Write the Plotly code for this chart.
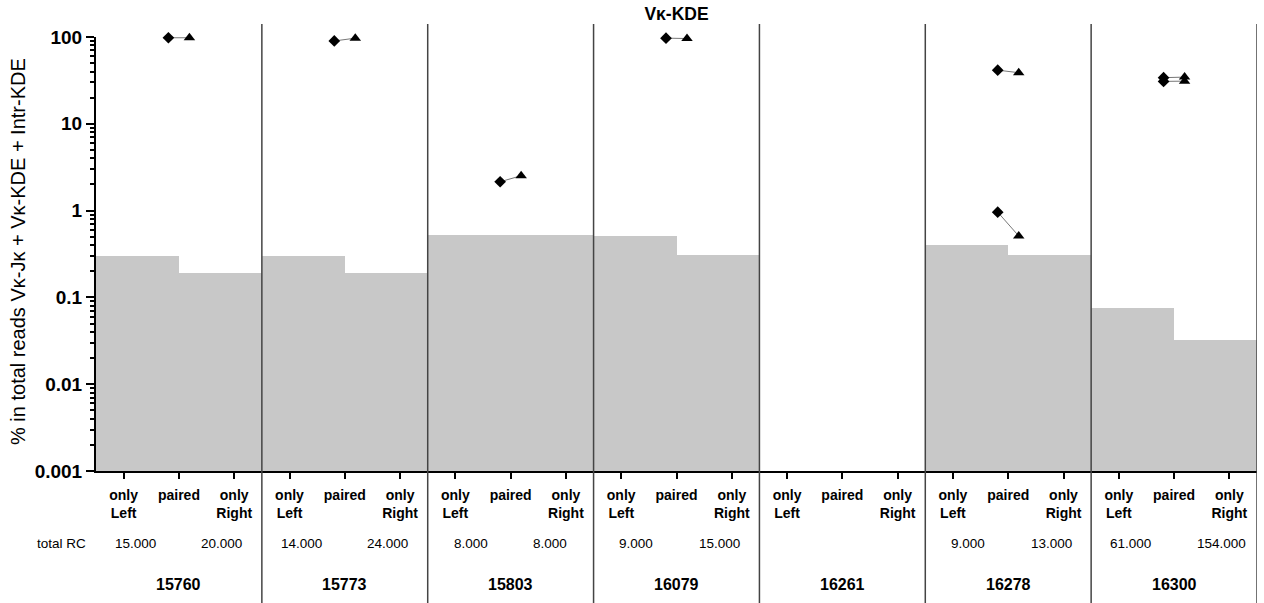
import plotly.graph_objects as go

# ---- data ----
groups = ["15760", "15773", "15803", "16079", "16261", "16278", "16300"]
categories = ["only<br>Left", "paired", "only<br>Right"]
only_left_pct = [0.30, 0.30, 0.52, 0.51, None, 0.40, 0.075]
only_right_pct = [0.19, 0.19, 0.52, 0.31, None, 0.31, 0.032]
paired_left_pct = [[98], [90], [2.15], [97], [], [41.5, 0.96], [34.0, 30.8]]
paired_right_pct = [[98], [97], [2.52], [96], [], [38.8, 0.51], [34.5, 31.0]]
total_rc_left = ["15.000", "14.000", "8.000", "9.000", "", "9.000", "61.000"]
total_rc_right = ["20.000", "24.000", "8.000", "15.000", "", "13.000", "154.000"]
y_tickvals = [0.001, 0.01, 0.1, 1, 10, 100]
y_ticktext = ["0.001", "0.01", "0.1", "1", "10", "100"]

FONT = "Liberation Sans, Arial, sans-serif"
GREY = "#c8c8c8"
W, H = 1264, 603
ML, MR, MT, MB = 96, 7, 37, 132
plot_h = H - MT - MB

fig = go.Figure()

# grey step bars
bx, by, bw = [], [], []
for g in range(len(groups)):
    if only_left_pct[g] is not None:
        bx.append(3 * g + 0.25); by.append(only_left_pct[g]); bw.append(1.5)
    if only_right_pct[g] is not None:
        bx.append(3 * g + 2 - 0.25); by.append(only_right_pct[g]); bw.append(1.5)
fig.add_trace(go.Bar(x=bx, y=by, width=bw, marker=dict(color=GREY, line=dict(width=0)),
                     showlegend=False, hoverinfo="skip"))

# paired points connected by lines
for g in range(len(groups)):
    for lv, rv in zip(paired_left_pct[g], paired_right_pct[g]):
        xc = 3 * g + 1
        fig.add_trace(go.Scatter(x=[xc - 0.19, xc + 0.19], y=[lv, rv], mode="lines",
                                 line=dict(color="#777777", width=1), showlegend=False,
                                 cliponaxis=False))
        fig.add_trace(go.Scatter(x=[xc - 0.19], y=[lv], mode="markers",
                                 marker=dict(symbol="diamond", size=9, color="black"),
                                 showlegend=False, cliponaxis=False))
        fig.add_trace(go.Scatter(x=[xc + 0.19], y=[rv], mode="markers",
                                 marker=dict(symbol="triangle-up", size=10, color="black"),
                                 showlegend=False, cliponaxis=False))

# dividers
shapes = []
for k in range(1, len(groups) + 1):
    xv = 3 * k - 0.5
    shapes.append(dict(type="line", xref="x", yref="paper", x0=xv, x1=xv,
                       y0=-(MB / plot_h), y1=1 + 13 / plot_h,
                       line=dict(color="#444444", width=1.5)))

annotations = []
# total RC row
y_rc = -(543 - (H - MB)) / plot_h
annotations.append(dict(xref="paper", yref="paper", x=-(ML - 35) / (W - ML - MR), y=y_rc,
                        text="total RC", showarrow=False, xanchor="left", yanchor="middle",
                        font=dict(family=FONT, size=13.5, color="black")))
y_grp = -(584 - (H - MB)) / plot_h
for g, name in enumerate(groups):
    if total_rc_left[g]:
        annotations.append(dict(xref="x", yref="paper", x=3 * g + 0.62, y=y_rc,
                                text=total_rc_left[g], showarrow=False, xanchor="right",
                                yanchor="middle", font=dict(family=FONT, size=13.5, color="black")))
    if total_rc_right[g]:
        annotations.append(dict(xref="x", yref="paper", x=3 * g + 2 - 0.63, y=y_rc,
                                text=total_rc_right[g], showarrow=False, xanchor="left",
                                yanchor="middle", font=dict(family=FONT, size=13.5, color="black")))
    annotations.append(dict(xref="x", yref="paper", x=3 * g + 1, y=y_grp, text=name,
                            showarrow=False, xanchor="center", yanchor="middle",
                            font=dict(family=FONT, size=16, color="black", weight="bold")))

# y title
annotations.append(dict(xref="paper", yref="paper", x=-(ML - 18) / (W - ML - MR),
                        y=1 - (252 - MT) / plot_h,
                        text="% in total reads Vκ-Jκ + Vκ-KDE + Intr-KDE", textangle=-90,
                        showarrow=False, xanchor="center", yanchor="middle",
                        font=dict(family=FONT, size=20, color="black")))

xtickvals = list(range(3 * len(groups)))
xticktext = [categories[i % 3] for i in xtickvals]

fig.update_layout(
    width=W, height=H,
    margin=dict(l=ML, r=MR, t=MT, b=MB),
    paper_bgcolor="white", plot_bgcolor="white",
    bargap=0, barmode="overlay",
    title=dict(text="Vκ-KDE", x=(ML + (W - ML - MR) / 2) / W, xanchor="center",
               y=1 - 14 / H, yanchor="middle", yref="container",
               font=dict(family=FONT, size=17.5, color="black", weight="bold")),
    shapes=shapes, annotations=annotations,
    xaxis=dict(range=[-0.5, 3 * len(groups) - 0.5], tickmode="array", tickvals=xtickvals,
               ticktext=xticktext, ticks="outside", ticklen=6, tickwidth=2, tickcolor="black",
               ticklabelstandoff=4,
               showline=True, linecolor="black", linewidth=2, showgrid=False, zeroline=False,
               tickfont=dict(family=FONT, size=14, color="black", weight="bold")),
    yaxis=dict(type="log", range=[-3, 2], tickmode="array", tickvals=y_tickvals,
               ticktext=y_ticktext, ticks="outside", ticklen=8, tickwidth=2, tickcolor="black",
               showline=True, linecolor="black", linewidth=2, showgrid=False, zeroline=False,
               tickfont=dict(family=FONT, size=19, color="black", weight="bold"),
               minor=dict(ticks="outside", ticklen=4, tickwidth=1.5, tickcolor="black",
                          dtick="D1", showgrid=False)),
    showlegend=False,
)

fig.write_html("out.html", config={"displayModeBar": False},
               post_script="document.body.style.margin='0';document.body.style.overflow='hidden';")
